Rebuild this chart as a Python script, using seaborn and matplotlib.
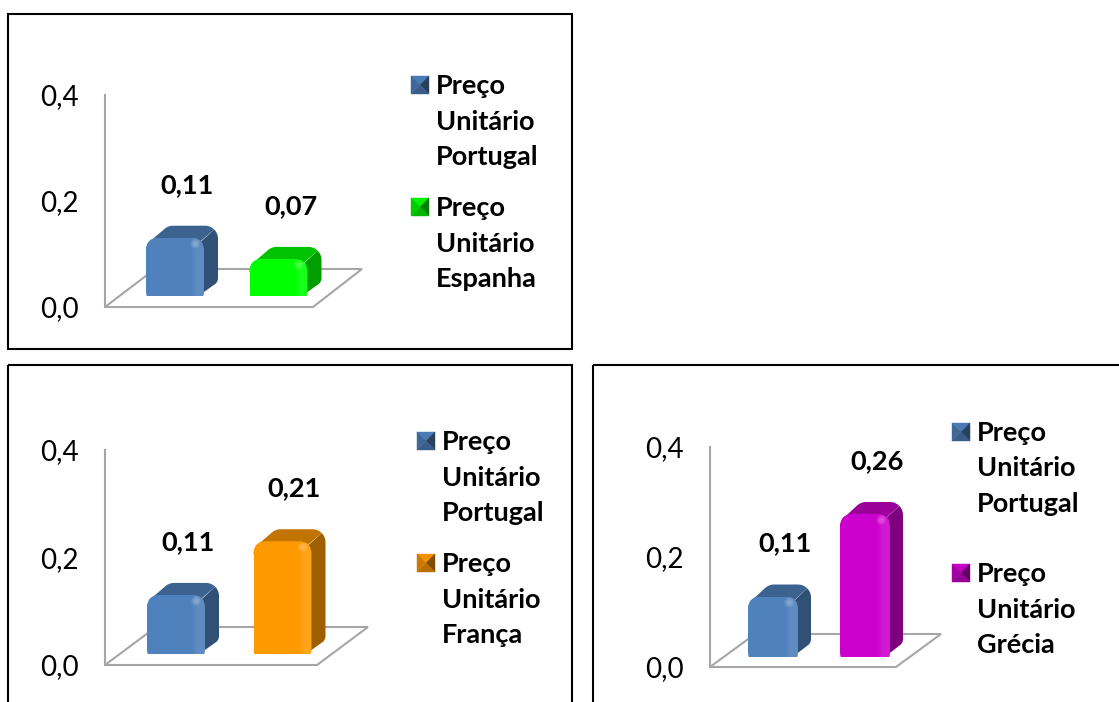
import numpy as np
import seaborn as sns
import matplotlib.pyplot as plt
from matplotlib.patches import Ellipse, FancyBboxPatch, Polygon, Rectangle
from matplotlib.colors import to_rgb

W, H = 1119, 702

# chart values
cats_es = ['Portugal', 'Espanha']
vals_es = [0.11, 0.07]
cats_fr = ['Portugal', 'França']
vals_fr = [0.11, 0.21]
cats_gr = ['Portugal', 'Grécia']
vals_gr = [0.11, 0.26]
ticks = [0.0, 0.2, 0.4]
tick_labels = ['0,0', '0,2', '0,4']

BLUE = '#4F81BD'
GREEN = '#00FF00'
ORANGE = '#FF9900'
MAGENTA = '#CC00CC'
GREY = '#A6A6A6'

sns.set_theme(style='white')
plt.rcParams['font.family'] = ['Lato', 'DejaVu Sans']

fig = plt.figure(figsize=(W / 100, H / 100), dpi=100)
fig.patch.set_facecolor('white')


def px_axes(left, top, right, bottom, zorder):
    return fig.add_axes([left / W, 1 - bottom / H, (right - left) / W, (bottom - top) / H],
                        facecolor='none', zorder=zorder)


# pixel canvas for the frames, floors and bar depth
canvas = px_axes(0, 0, W, H, 1)
canvas.set_xlim(0, W)
canvas.set_ylim(H, 0)
canvas.axis('off')
to_px = canvas.transData


def shade(color, k):
    return tuple(c * k for c in to_rgb(color))


def arc(cx, cy, r, a0, a1):
    # angles measured on screen, y pointing down
    a = np.radians(np.linspace(a0, a1, 8))
    return list(zip(cx + r * np.cos(a), cy + r * np.sin(a)))


def draw_bar(ax, bar, color, depth, value):
    ext = bar.get_window_extent()
    (x0, y0), (x1, y1) = to_px.inverted().transform([(ext.x0, ext.y0), (ext.x1, ext.y1)])
    top, base = min(y0, y1), max(y0, y1)
    dx, dy = depth
    r = 13
    rb = 8

    # side and top faces sit behind the seaborn bar
    side = (arc(x1 + dx - r, top - dy + r, r, 315, 360)
            + arc(x1 + dx - rb, base - dy - rb + 2, rb, 0, 45)
            + arc(x1 - rb, base - rb, rb, 45, 90)
            + [(x1 - r, base), (x1 - r, top + r)])
    canvas.add_patch(Polygon(side, fc=shade(color, 0.62), ec='none', zorder=3))
    upper = (arc(x0 + r, top + r, r, 180, 225)
             + arc(x0 + dx + r, top - dy + r, r, 225, 270)
             + arc(x1 + dx - r, top - dy + r, r, 270, 315)
             + arc(x1 - r, top + r, r, 315, 330)
             + [(x1 - r, top + r), (x0 + r, top + r)])
    canvas.add_patch(Polygon(upper, fc=shade(color, 0.76), ec='none', zorder=4))

    # seaborn bar is the front face, clipped to a rounded outline
    clip = FancyBboxPatch((x0 + r, top + r), x1 - x0 - 2 * r, base - top - 2 * r + 8,
                          boxstyle=f'round,pad={r},rounding_size={r}', transform=to_px)
    bar.set_clip_path(clip)

    # soft bevel along the right edge and a highlight at the corner
    for i in range(5):
        strip = Rectangle((x1 - 12 + i, top), 12 - i, base - top, fc='white', alpha=0.022,
                          ec='none', transform=to_px, zorder=5)
        ax.add_patch(strip)
        strip.set_clip_path(clip)
    for i in range(4):
        ax.add_patch(Ellipse((x1 - 9, top + 6), 10 - 2 * i, 10 - 2 * i, fc='white', alpha=0.07,
                             ec='none', transform=to_px, zorder=6))

    ax.text(x0 + (x1 - x0) / 2 + 12, top - 53, f'{value:.2f}'.replace('.', ','), transform=to_px,
            ha='center', va='center', fontsize=19.5, fontweight='bold', color='black', clip_on=False)


def legend_key(x, y, color):
    c = (x + 9, y + 9)
    corners = [(x, y), (x + 18, y), (x + 18, y + 18), (x, y + 18)]
    for i, k in enumerate([0.95, 0.5, 0.72, 0.8]):
        canvas.add_patch(Polygon([corners[i], corners[(i + 1) % 4], c], fc=shade(color, k),
                                 ec=shade(color, k), lw=0.3, zorder=6))


def legend_entry(x, y, name, color):
    legend_key(x, y - 9, color)
    for i, word in enumerate(['Preço', 'Unitário', name]):
        canvas.text(x + 25, y + 1 + i * 35.5, word, ha='left', va='center', fontsize=19.5,
                    fontweight='bold', color='black', zorder=6)


def panel(cats, vals, colors, wall, floor, bars, depth):
    axis_x, axis_top, axis_bottom = wall
    base, scale, center0, spacing, bar_w = bars

    # y axis with its tick labels
    frame = px_axes(axis_x, axis_top, axis_x + 200, axis_bottom, 0)
    frame.set_ylim(0, 0.4)
    frame.set_xticks([])
    frame.set_yticks(ticks)
    frame.set_yticklabels(tick_labels, fontsize=20, color='black')
    frame.tick_params(axis='y', length=0, pad=19)
    sns.despine(ax=frame, bottom=True)
    frame.spines['left'].set_color(GREY)
    frame.spines['left'].set_linewidth(1.5)

    canvas.add_patch(Polygon(floor, closed=True, fc='white', ec=GREY, lw=1.5, zorder=2))

    # bars on their own axes, raised onto the floor
    ax = px_axes(center0 - spacing / 2, base - scale * 0.4, center0 + spacing * 1.5, base, 2)
    sns.barplot(x=cats, y=vals, hue=cats, palette=colors, legend=False, saturation=1,
                width=bar_w / spacing, errorbar=None, linewidth=0, ax=ax)
    ax.set_xlim(-0.5, 1.5)
    ax.set_ylim(0, 0.4)
    ax.axis('off')
    for bar, color, value in list(zip(ax.patches, colors, vals)):
        draw_bar(ax, bar, color, depth, value)


panel(cats_es, vals_es, [BLUE, GREEN], (105, 95, 307),
      [(105, 307), (313, 307), (362, 269), (155, 269)], (296, 530, 175, 103.5, 58), (14, 12))
panel(cats_fr, vals_fr, [BLUE, ORANGE], (105, 450, 665),
      [(105, 665), (317, 665), (368, 627), (156, 627)], (654, 537, 176, 106.5, 58), (14, 12))
panel(cats_gr, vals_gr, [BLUE, MAGENTA], (710, 447, 667),
      [(710, 667), (896, 667), (941, 634), (755, 634)], (657, 550, 773, 92, 50), (13, 12))

legend_entry(411, 85, 'Portugal', BLUE)
legend_entry(411, 207, 'Espanha', GREEN)
legend_entry(417, 441, 'Portugal', BLUE)
legend_entry(417, 563, 'França', ORANGE)
legend_entry(952, 432, 'Portugal', BLUE)
legend_entry(952, 573, 'Grécia', MAGENTA)

# panel borders, the lower two run past the bottom edge
for x0, y0, x1, y1 in [(8, 14, 572, 349), (8, 365, 572, 720), (593, 365, 1140, 720)]:
    canvas.add_patch(Rectangle((x0, y0), x1 - x0, y1 - y0, fc='none', ec='black', lw=1.5, zorder=7))

fig.savefig('out.png', dpi=100)
